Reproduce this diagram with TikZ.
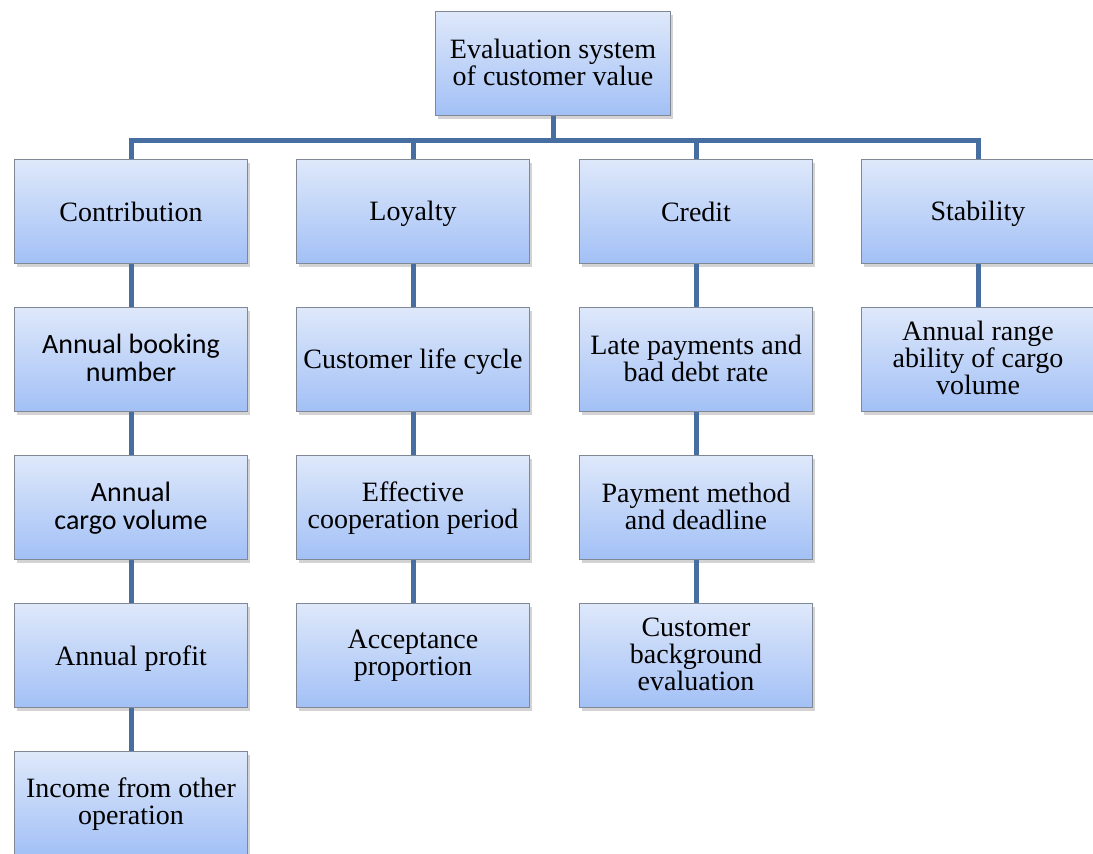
\documentclass[tikz,border=0pt]{standalone}
\usepackage{fontspec}
\setmainfont{Liberation Serif}
\newfontfamily\boxsans{Carlito}
\usepackage{tikz}
\usetikzlibrary{shadows}
\definecolor{linkblue}{RGB}{70,110,160}
\definecolor{boxtop}{RGB}{222,232,250}
\definecolor{boxbot}{RGB}{162,192,246}
\definecolor{boxedge}{RGB}{128,136,150}

\begin{document}
\begin{tikzpicture}[x=0.5pt,y=-0.5pt,
  valbox/.style={draw=boxedge,line width=0.5pt,top color=boxtop,bottom color=boxbot,
    minimum width=116.5pt,minimum height=52pt,inner sep=2pt,align=center,
    font=\fontsize{14}{13.5}\selectfont,
    execute at begin node={\rule{0pt}{12pt}},
    execute at end node={\rule[-2pt]{0pt}{2pt}},
    drop shadow={shadow xshift=1.2pt,shadow yshift=-1.5pt,opacity=0.35}},
  link/.style={draw=linkblue,line width=2.5pt}]
\useasboundingbox (0,0) rectangle (1093,854);
\node[valbox,minimum width=117.5pt] (eval) at (553,64) {Evaluation system\\of customer value};
\node[valbox] (contrib) at (131,212) {Contribution};
\node[valbox] (loyal) at (413,212) {Loyalty};
\node[valbox] (credit) at (696,212) {Credit};
\node[valbox] (stab) at (978,212) {Stability};
\node[valbox,font=\boxsans\fontsize{14}{14}\selectfont] (booking) at (131,360) {Annual booking\\number};
\node[valbox,font=\boxsans\fontsize{14}{14}\selectfont] (cargo) at (131,508) {Annual\\cargo volume};
\node[valbox] (profit) at (131,656) {Annual profit};
\node[valbox] (income) at (131,804) {Income from other\\operation};
\node[valbox] (lifecycle) at (413,360) {Customer life cycle};
\node[valbox] (coop) at (413,508) {Effective\\cooperation period};
\node[valbox] (accept) at (413,656) {Acceptance\\proportion};
\node[valbox] (latepay) at (696,360) {Late payments and\\bad debt rate};
\node[valbox] (paymethod) at (696,508) {Payment method\\and deadline};
\node[valbox] (backgr) at (696,656) {Customer\\background\\evaluation};
\node[valbox] (range) at (978,360) {Annual range\\ability of cargo\\volume};
% tree links
\draw[link] (eval.south) -- ++(0,24) -| (contrib.north);
\draw[link] (eval.south) -- ++(0,24) -| (loyal.north);
\draw[link] (eval.south) -- ++(0,24) -| (credit.north);
\draw[link] (eval.south) -- ++(0,24) -| (stab.north);
\draw[link] (contrib) -- (booking);
\draw[link] (booking) -- (cargo);
\draw[link] (cargo) -- (profit);
\draw[link] (profit) -- (income);
\draw[link] (loyal) -- (lifecycle);
\draw[link] (lifecycle) -- (coop);
\draw[link] (coop) -- (accept);
\draw[link] (credit) -- (latepay);
\draw[link] (latepay) -- (paymethod);
\draw[link] (paymethod) -- (backgr);
\draw[link] (stab) -- (range);
\end{tikzpicture}
\end{document}
